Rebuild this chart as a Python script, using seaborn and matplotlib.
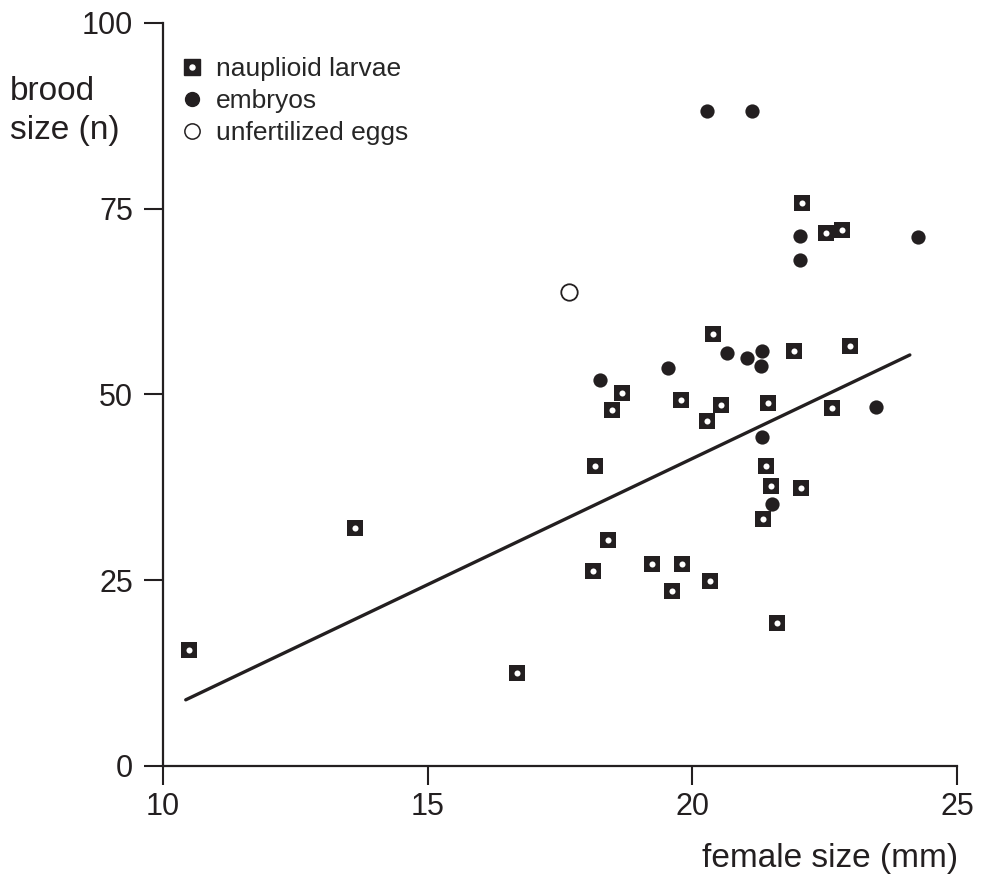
import numpy as np
import pandas as pd
import seaborn as sns
import matplotlib.pyplot as plt
from matplotlib.lines import Line2D
from matplotlib.legend_handler import HandlerTuple

# -- data
larvae_x = [10.49, 13.63, 16.69, 18.16, 18.12, 18.41, 18.48, 18.67, 19.24, 19.62,
            19.81, 19.79, 20.28, 20.39, 20.33, 20.54, 21.43, 21.39, 21.34, 21.49,
            21.60, 21.92, 22.05, 22.07, 22.53, 22.83, 22.64, 22.98]
larvae_y = [15.6, 32.0, 12.5, 40.4, 26.2, 30.4, 47.9, 50.2, 27.2, 23.5,
            27.2, 49.2, 46.4, 58.1, 24.9, 48.6, 48.8, 40.4, 33.2, 37.7,
            19.2, 55.8, 37.4, 75.7, 71.7, 72.1, 48.2, 56.5]

embryo_x = [20.28, 21.13, 18.26, 19.54, 20.66, 21.03, 21.32, 21.30, 22.03, 22.03,
            24.26, 23.47, 21.32, 21.51]
embryo_y = [88.1, 88.1, 51.9, 53.5, 55.6, 54.9, 55.8, 53.8, 71.3, 68.1,
            71.2, 48.3, 44.3, 35.2]

egg_x = [17.67]
egg_y = [63.8]

fit_x = [10.43, 24.11]
fit_y = [8.9, 55.3]

larvae = pd.DataFrame({"x": larvae_x, "y": larvae_y})
embryos = pd.DataFrame({"x": embryo_x, "y": embryo_y})
eggs = pd.DataFrame({"x": egg_x, "y": egg_y})
fit = pd.DataFrame({"x": fit_x, "y": fit_y})

sns.set_style("ticks")
plt.rcParams['font.family'] = ['Liberation Sans', 'DejaVu Sans']

fig = plt.figure(figsize=(9.83, 8.74), dpi=100)
ax = fig.add_axes([0.1658, 0.1236, 0.8077, 0.8504])

dark = "#231f20"

sns.lineplot(data=fit, x="x", y="y", ax=ax, color=dark, linewidth=2.4, zorder=2)
sns.scatterplot(data=larvae, x="x", y="y", ax=ax, marker="s", s=135, color=dark,
                edgecolor=dark, linewidth=0, zorder=3)
sns.scatterplot(data=larvae, x="x", y="y", ax=ax, marker="o", s=19, color="white",
                edgecolor="white", linewidth=0, zorder=4)
sns.scatterplot(data=embryos, x="x", y="y", ax=ax, marker="o", s=105, color=dark,
                edgecolor=dark, linewidth=0, zorder=3)
sns.scatterplot(data=eggs, x="x", y="y", ax=ax, marker="o", s=140, color="white",
                edgecolor=dark, linewidth=1.3, zorder=3)

ax.set_xlim(10, 25)
ax.set_ylim(0, 100)
ax.set_xticks([10, 15, 20, 25])
ax.set_yticks([0, 25, 50, 75, 100])
ax.tick_params(axis="both", direction="out", length=13.5, width=1.5, colors=dark,
               labelsize=22)
ax.tick_params(axis="x", pad=5)
ax.tick_params(axis="y", pad=8)
for sp in ["left", "bottom"]:
    ax.spines[sp].set_linewidth(1.6)
    ax.spines[sp].set_color(dark)
sns.despine(ax=ax)
ax.set_xlabel("")
ax.set_ylabel("")

fig.text(10 / 983, 1 - 111 / 874, "brood\nsize (n)", fontsize=24, color=dark,
         ha="left", va="center", linespacing=1.3)
fig.text(958 / 983, 1 - 858 / 874, "female size (mm)", fontsize=24, color=dark,
         ha="right", va="center")

# -- legend
sq = Line2D([], [], marker="s", linestyle="none", markersize=11, color=dark)
dot = Line2D([], [], marker="o", linestyle="none", markersize=3.6, color="white")
emb = Line2D([], [], marker="o", linestyle="none", markersize=10, color=dark)
egg = Line2D([], [], marker="o", linestyle="none", markersize=11, markerfacecolor="white",
             markeredgecolor=dark, markeredgewidth=1.1)
leg = ax.legend([(sq, dot), emb, egg], ["nauplioid larvae", "embryos", "unfertilized eggs"],
                handler_map={tuple: HandlerTuple(ndivide=1, pad=0)},
                loc="upper left", bbox_to_anchor=(0.01, 0.968), frameon=False,
                fontsize=19, handlelength=0.8, handletextpad=0.5, labelspacing=0.3,
                borderaxespad=0)

fig.savefig("out.png", dpi=100)
